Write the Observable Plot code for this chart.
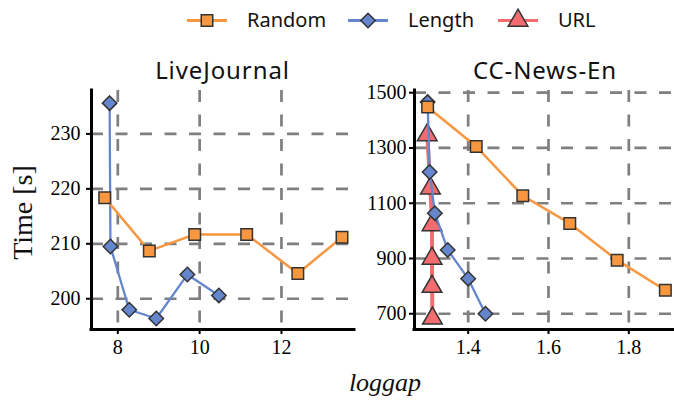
<!DOCTYPE html>
<html><head><meta charset="utf-8">
<script src="https://cdn.jsdelivr.net/npm/d3@7"></script>
<script src="https://cdn.jsdelivr.net/npm/@observablehq/plot@0.6"></script>
<style>
body{margin:0;background:#fff;}
#wrap{position:relative;width:674px;height:402px;overflow:hidden;background:#fff;}
#wrap > svg, #wrap > figure{position:absolute;margin:0;}
#wrap svg text{font-family:'Liberation Serif', serif !important;}
#wrap svg text.sans{font-family:'Noto Sans', sans-serif !important;}
</style></head><body>
<div id="wrap"></div>
<script>
// ---- data ----
const seriesNames = ["Random", "Length", "URL"];
const seriesColors = ["#F8973F", "#6586CC", "#F36C70"];
const panelTitles = ["LiveJournal", "CC-News-En"];
const xLabel = "loggap";
const yLabel = "Time [s]";

const ljRandomX = [7.68, 8.77, 9.88, 11.15, 12.40, 13.48];
const ljRandomY = [218.4, 208.7, 211.7, 211.7, 204.6, 211.2];
const ljLengthX = [7.80, 7.82, 8.28, 8.94, 9.70, 10.47];
const ljLengthY = [235.6, 209.5, 198.0, 196.4, 204.4, 200.6];

const ccRandomX = [1.299, 1.420, 1.536, 1.653, 1.771, 1.891];
const ccRandomY = [1448, 1305, 1127, 1027, 894, 785];
const ccLengthX = [1.299, 1.304, 1.317, 1.349, 1.400, 1.443];
const ccLengthY = [1466, 1213, 1064, 931, 827, 700];
const ccUrlX = [1.298, 1.306, 1.310, 1.310, 1.310, 1.311];
const ccUrlY = [1347, 1154, 1021, 900, 798, 683];

const ljXTicks = [8, 10, 12];
const ljYTicks = [200, 210, 220, 230];
const ccXTicks = [1.4, 1.6, 1.8];
const ccYTicks = [700, 900, 1100, 1300, 1500];

// ---- build tables ----
function rows(series, xs, ys) { return xs.map((x, i) => ({series, x, y: ys[i]})); }
const ljData = [...rows("Random", ljRandomX, ljRandomY), ...rows("Length", ljLengthX, ljLengthY)];
const ccData = [...rows("Random", ccRandomX, ccRandomY), ...rows("Length", ccLengthX, ccLengthY), ...rows("URL", ccUrlX, ccUrlY)];

const symbolNames = ["square", "diamond2", "triangle"];
const symbolR = [6.5, 6.5, 7.3];
const lineW = [2.5, 2.3, 4];
const drawOrder = ["URL", "Length", "Random"];
const serif = "'Liberation Serif', serif";

const gridStyle = {stroke: "#7f7f7f", strokeOpacity: 1, strokeWidth: 2.7, strokeDasharray: "12,12.5"};

function panel({data, xDomain, yDomain, xTicks, yTicks, width, marginLeft, marginRight, yPad, xFormat}) {
  const marks = [
    Plot.gridX(xTicks, gridStyle),
    Plot.gridY(yTicks, gridStyle),
    Plot.axisX(xTicks, {tickSize: 5, tickPadding: 5, strokeWidth: 2, label: null, tickFormat: xFormat, fontFamily: serif, fontSize: 20, fontVariant: "normal"}),
    Plot.axisY(yTicks, {tickSize: 5, tickPadding: yPad, strokeWidth: 2, label: null, tickFormat: d3.format("d"), fontFamily: serif, fontSize: 20, fontVariant: "normal"}),
    Plot.ruleX([xDomain[0]], {stroke: "#000", strokeWidth: 3, strokeLinecap: "square"}),
    Plot.ruleY([yDomain[0]], {stroke: "#000", strokeWidth: 3, strokeLinecap: "square"})
  ];
  for (const s of drawOrder) {
    const k = seriesNames.indexOf(s);
    const sub = data.filter(d => d.series === s);
    if (!sub.length) continue;
    marks.push(Plot.line(sub, {x: "x", y: "y", stroke: seriesColors[k], strokeWidth: lineW[k]}));
    marks.push(Plot.dot(sub, {x: "x", y: "y", symbol: () => symbolNames[k], fill: seriesColors[k], stroke: "#333", strokeWidth: 1.5, r: symbolR[k]}));
  }
  return Plot.plot({
    width, height: 320, marginTop: 50, marginBottom: 31, marginLeft, marginRight,
    style: {fontFamily: serif, fontSize: "20px", color: "#000", background: "transparent", overflow: "visible"},
    x: {domain: xDomain}, y: {domain: yDomain},
    symbol: {type: "identity"},
    marks
  });
}

const wrap = document.getElementById("wrap");

const p1 = panel({data: ljData, xDomain: [7.357, 13.785], yDomain: [194.4, 237.9], xTicks: ljXTicks, yTicks: ljYTicks,
  width: 360, marginLeft: 91, marginRight: 6, yPad: 6, xFormat: d3.format("d")});
p1.style.left = "0px"; p1.style.top = "40px";
wrap.appendChild(p1);

const p2 = panel({data: ccData, xDomain: [1.2663, 1.9138], yDomain: [643, 1508], xTicks: ccXTicks, yTicks: ccYTicks,
  width: 314, marginLeft: 54, marginRight: 0, yPad: 3, xFormat: d3.format(".1f")});
p2.style.left = "360px"; p2.style.top = "40px";
wrap.appendChild(p2);

// ---- overlay: titles, axis labels, legend ----
const ov = d3.select(wrap).append("svg").attr("width", 674).attr("height", 402)
  .style("left", "0px").style("top", "0px").style("pointer-events", "none");

const titleX = [222.5, 545];
panelTitles.forEach((t, i) => {
  ov.append("text").attr("class", "sans").attr("x", titleX[i]).attr("y", 78.5).attr("text-anchor", "middle")
    .attr("font-size", 24).attr("letter-spacing", 0.9).attr("fill", "#111").text(t);
});
ov.append("text").attr("transform", "translate(31.5,212.5) rotate(-90)").attr("text-anchor", "middle")
  .attr("font-size", 28).attr("fill", "#111").text(yLabel);
ov.append("text").attr("x", 385).attr("y", 391).attr("text-anchor", "middle")
  .attr("font-style", "italic").attr("font-size", 26).attr("fill", "#111").text(xLabel);

const legX = [207, 368, 518];
const d3Sym = [d3.symbolSquare, d3.symbolDiamond2, d3.symbolTriangle];
seriesNames.forEach((s, k) => {
  const cx = legX[k], cy = 20.5;
  ov.append("line").attr("x1", cx - 20).attr("x2", cx + 20).attr("y1", cy).attr("y2", cy)
    .attr("stroke", seriesColors[k]).attr("stroke-width", 3);
  ov.append("path").attr("transform", `translate(${cx},${cy})`)
    .attr("d", d3.symbol(d3Sym[k], Math.PI * symbolR[k] * symbolR[k])())
    .attr("fill", seriesColors[k]).attr("stroke", "#333").attr("stroke-width", 1.5);
  ov.append("text").attr("class", "sans").attr("x", cx + 40).attr("y", 27)
    .attr("font-size", 20).attr("fill", "#111").text(s);
});
</script>
</body></html>
